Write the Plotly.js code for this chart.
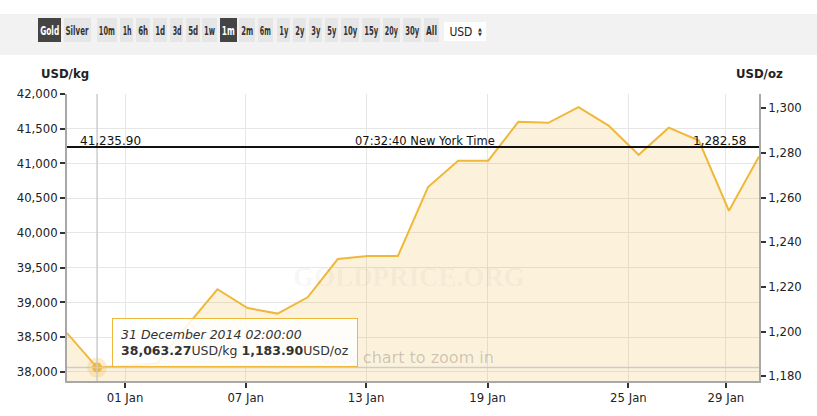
<!DOCTYPE html>
<html>
<head>
<meta charset="utf-8">
<script src="https://cdn.plot.ly/plotly-3.0.1.min.js"></script>
<style>
html,body{margin:0;padding:0;background:#fff;}
#chart{width:817px;height:416px;}
</style>
</head>
<body>
<div id="chart"></div>
<script>
// ---------- DATA ----------
const usdKg = [38560, 38063.27, 38090, 38125, 38670, 39190, 38920, 38840, 39075, 39625,
               39670, 39670, 40660, 41040, 41040, 41600, 41585, 41810, 41545, 41125,
               41515, 41330, 40320, 41100];
const tickPos = [1.93, 5.94, 9.94, 13.98, 18.66, 21.90];
const tickLabels = ['01 Jan', '07 Jan', '13 Jan', '19 Jan', '25 Jan', '29 Jan'];
const kgTicks = [38000, 38500, 39000, 39500, 40000, 40500, 41000, 41500, 42000];
const ozTicks = [1180, 1200, 1220, 1240, 1260, 1280, 1300];
const currentPrice = 41235.90;
const currentTime = '07:32:40 New York Time';
const hoverIndex = 1;
const hoverDate = '31 December 2014 02:00:00';
const metalButtons = ['Gold', 'Silver'];
const rangeButtons = ['10m','1h','6h','1d','3d','5d','1w','1m','2m','6m','1y','2y','3y','5y','10y','15y','20y','30y','All'];
const currency = 'USD';
const OZ_PER_KG = 32.1507466;

// ---------- LAYOUT HELPERS ----------
const L = 67, R = 759, T = 94, B = 381;
const W = R - L, H = B - T;
const px = v => (v - L) / W;
const py = v => (B - v) / H;
const kgRange = [37870, 42000];
const ozRange = kgRange.map(v => v / OZ_PER_KG);
const fmt = (v, d) => v.toLocaleString('en-US', {minimumFractionDigits: d, maximumFractionDigits: d});

const LINE = '#f0b83b';
const FONT = 'DejaVu Sans, Verdana, sans-serif';
const BTNFONT = 'DejaVu Sans, sans-serif';

const xIdx = usdKg.map((_, i) => i);
const usdOz = usdKg.map(v => v / OZ_PER_KG);

const traces = [
  {x: xIdx, y: usdKg, type: 'scatter', mode: 'lines', fill: 'tozeroy',
   fillcolor: 'rgba(240,185,60,0.18)', line: {color: LINE, width: 2}, hoverinfo: 'skip'},
  {x: xIdx, y: usdOz, yaxis: 'y2', type: 'scatter', mode: 'lines', opacity: 0,
   line: {width: 0}, hoverinfo: 'skip'},
  {x: [hoverIndex], y: [usdKg[hoverIndex]], type: 'scatter', mode: 'markers',
   marker: {size: 20, color: 'rgba(240,185,60,0.25)'}, hoverinfo: 'skip'},
  {x: [hoverIndex], y: [usdKg[hoverIndex]], type: 'scatter', mode: 'markers',
   marker: {size: 10, color: LINE}, hoverinfo: 'skip'}
];

// ---------- TOOLBAR ----------
const btnEdges = [[38,61],[64,91],
  [97,117],[120,133],[136,150],[153,167],[170,183],[186,200],[202,217],[220,237],[239,255],
  [258,273],[277,290],[293,306],[309,322],[325,338],[341,359],[362,380],[383,400],[403,421],[424,439]];
const allButtons = metalButtons.concat(rangeButtons);
const selected = ['Gold', '1m'];

const shapes = [
  {type: 'rect', xref: 'paper', yref: 'paper', x0: px(0), x1: px(817), y0: py(55), y1: py(14),
   fillcolor: '#f2f2f2', line: {width: 0}, layer: 'below'}
];
const annotations = [];
const squeeze = {};   // annotation index -> target text width (px)
allButtons.forEach((b, i) => {
  const [a, c] = btnEdges[i];
  const sel = selected.includes(b);
  shapes.push({type: 'rect', xref: 'paper', yref: 'paper', x0: px(a), x1: px(c), y0: py(42), y1: py(18),
    fillcolor: sel ? '#444444' : '#e6e6e6', line: {width: 0}});
  squeeze[annotations.length] = (c - a) - 4;
  annotations.push({xref: 'paper', yref: 'paper', x: px((a + c) / 2), y: py(30.5), text: '<b>' + b + '</b>',
    showarrow: false, xanchor: 'center', yanchor: 'middle',
    font: {family: BTNFONT, size: 13, color: sel ? '#ffffff' : '#333333'}});
});
shapes.push({type: 'rect', xref: 'paper', yref: 'paper', x0: px(444), x1: px(486), y0: py(41), y1: py(22),
  fillcolor: '#ffffff', line: {width: 0}});
squeeze[annotations.length] = 23;
annotations.push({xref: 'paper', yref: 'paper', x: px(461), y: py(31.5), text: currency, showarrow: false,
  xanchor: 'center', yanchor: 'middle', font: {family: BTNFONT, size: 13, color: '#222'}});
annotations.push({xref: 'paper', yref: 'paper', x: px(480), y: py(28.5), text: '▲', showarrow: false,
  xanchor: 'center', yanchor: 'middle', font: {family: FONT, size: 5, color: '#333'}});
annotations.push({xref: 'paper', yref: 'paper', x: px(480), y: py(34), text: '▼', showarrow: false,
  xanchor: 'center', yanchor: 'middle', font: {family: FONT, size: 5, color: '#333'}});

// ---------- CHART DECORATION ----------
shapes.push({type: 'line', xref: 'x', yref: 'paper', x0: hoverIndex, x1: hoverIndex, y0: 0, y1: 1,
  line: {color: '#cccccc', width: 1.5}});
shapes.push({type: 'line', xref: 'paper', yref: 'y', x0: 0, x1: 1, y0: usdKg[hoverIndex], y1: usdKg[hoverIndex],
  line: {color: '#cccccc', width: 1.5}});
shapes.push({type: 'line', xref: 'paper', yref: 'y', x0: 0, x1: 1, y0: currentPrice, y1: currentPrice,
  line: {color: '#111111', width: 2}});

annotations.push({xref: 'paper', yref: 'paper', x: px(64.5), y: py(74), text: '<b>USD/kg</b>', showarrow: false,
  xanchor: 'center', yanchor: 'middle', font: {family: FONT, size: 11.7, color: '#222'}});
annotations.push({xref: 'paper', yref: 'paper', x: px(759), y: py(74), text: '<b>USD/oz</b>', showarrow: false,
  xanchor: 'center', yanchor: 'middle', font: {family: FONT, size: 11.7, color: '#222'}});

annotations.push({xref: 'paper', yref: 'paper', x: px(409), y: py(277), text: '<b>GOLDPRICE.ORG</b>', showarrow: false,
  xanchor: 'center', yanchor: 'middle', font: {family: 'Liberation Serif, Times New Roman, serif', size: 27, color: 'rgba(0,0,0,0.05)'}});
annotations.push({xref: 'paper', yref: 'paper', x: px(408), y: py(357), text: 'click chart to zoom in', showarrow: false,
  xanchor: 'center', yanchor: 'middle', font: {family: FONT, size: 16, color: 'rgba(0,0,0,0.2)'}});

annotations.push({xref: 'paper', yref: 'paper', x: px(78), y: py(140.5), text: fmt(currentPrice, 2), showarrow: false,
  xanchor: 'left', yanchor: 'middle', font: {family: FONT, size: 12, color: '#111'}});
annotations.push({xref: 'paper', yref: 'paper', x: px(425), y: py(140.5), text: currentTime, showarrow: false,
  xanchor: 'center', yanchor: 'middle', font: {family: FONT, size: 11.5, color: '#111'}});
annotations.push({xref: 'paper', yref: 'paper', x: px(748), y: py(140.5), text: fmt(currentPrice / OZ_PER_KG, 2), showarrow: false,
  xanchor: 'right', yanchor: 'middle', font: {family: FONT, size: 12, color: '#111'}});

annotations.push({xref: 'paper', yref: 'paper', x: px(112), y: py(318),
  text: '<i>' + hoverDate + '</i><br><b>' + fmt(usdKg[hoverIndex], 2) + '</b>USD/kg <b>' +
        fmt(usdKg[hoverIndex] / OZ_PER_KG, 2) + '</b>USD/oz',
  showarrow: false, xanchor: 'left', yanchor: 'top', align: 'left',
  bgcolor: 'rgba(255,255,255,0.85)', bordercolor: LINE, borderwidth: 1, borderpad: 8,
  font: {family: FONT, size: 12.5, color: '#333'}});

const axisCommon = {
  showline: true, linecolor: '#a8a8a8', linewidth: 2, ticks: 'outside', ticklen: 5, tickwidth: 2,
  tickcolor: '#333', zeroline: false, tickfont: {family: FONT, size: 11.7, color: '#222'}, fixedrange: true
};

const layout = {
  width: 817, height: 416,
  margin: {l: L, r: 817 - R, t: T, b: 416 - B, pad: 0},
  paper_bgcolor: '#ffffff', plot_bgcolor: '#ffffff',
  showlegend: false, hovermode: false,
  font: {family: FONT},
  xaxis: Object.assign({}, axisCommon, {range: [0, usdKg.length - 1], tickvals: tickPos, ticktext: tickLabels,
    showgrid: true, gridcolor: '#e6e6e6', gridwidth: 1}),
  yaxis: Object.assign({}, axisCommon, {range: kgRange, tickvals: kgTicks, tickformat: ',d',
    showgrid: true, gridcolor: '#e6e6e6', gridwidth: 1}),
  yaxis2: Object.assign({}, axisCommon, {range: ozRange, tickvals: ozTicks, tickformat: ',d',
    overlaying: 'y', side: 'right', showgrid: false}),
  shapes: shapes,
  annotations: annotations
};

Plotly.newPlot('chart', traces, layout, {displayModeBar: false, staticPlot: true}).then(gd => {
  // condense the toolbar labels to the narrow width of the original buttons
  gd.querySelectorAll('g.annotation').forEach(g => {
    const idx = +g.getAttribute('data-index');
    if (squeeze[idx] === undefined) return;
    const t = g.querySelector('text.annotation-text');
    if (!t) return;
    const w = t.getComputedTextLength();
    if (w > squeeze[idx]) {
      t.setAttribute('textLength', squeeze[idx]);
      t.setAttribute('lengthAdjust', 'spacingAndGlyphs');
    }
  });
});
</script>
</body>
</html>
